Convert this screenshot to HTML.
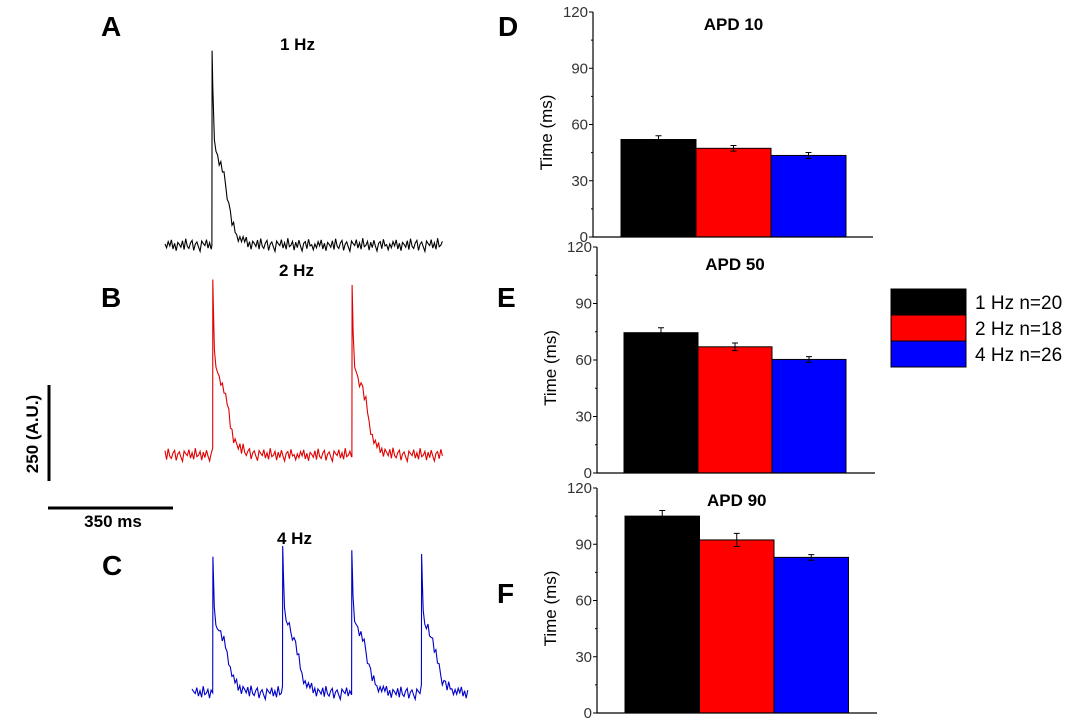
<!DOCTYPE html>
<html><head><meta charset="utf-8"><style>
html,body{margin:0;padding:0;background:#fff;}
svg{display:block;font-family:"Liberation Sans",Arial,sans-serif;}
.lbl{font-weight:bold;font-size:28px;}
.ttl{font-weight:bold;font-size:17px;font-family:"Liberation Sans",sans-serif;}
.tick{font-size:15px;fill:#333;}
</style></head><body>
<svg id="fig" width="1080" height="720" viewBox="0 0 1080 720">
<g>
<text class="lbl" x="101" y="36">A</text>
<text class="lbl" x="101" y="307">B</text>
<text class="lbl" x="102" y="575">C</text>
<text class="lbl" x="498" y="36">D</text>
<text class="lbl" x="497" y="307">E</text>
<text class="lbl" x="497" y="603">F</text>
</g>
<text class="ttl" x="280" y="50">1 Hz</text>
<text class="ttl" x="279" y="276">2 Hz</text>
<text class="ttl" x="277" y="544">4 Hz</text>
<g>
<line x1="49" y1="385" x2="49" y2="481" stroke="#000" stroke-width="3"/>
<text class="ttl" transform="translate(38,434) rotate(-90)" text-anchor="middle">250 (A.U.)</text>
<line x1="48" y1="508" x2="173" y2="508" stroke="#000" stroke-width="3"/>
<text class="ttl" x="113" y="527" text-anchor="middle">350 ms</text>
</g>
<g id="traces"></g>
<g id="bars"></g>
<g>
<rect x="891" y="289" width="75" height="26" fill="#000" stroke="#000"/>
<rect x="891" y="315" width="75" height="26" fill="#f00" stroke="#000"/>
<rect x="891" y="341" width="75" height="26" fill="#00f" stroke="#000"/>
<text x="975" y="309" font-size="19">1 Hz n=20</text>
<text x="975" y="335" font-size="19">2 Hz n=18</text>
<text x="975" y="361" font-size="19">4 Hz n=26</text>
</g>
</svg>
<script>
// ---- bar chart data ----
const groups = ["1 Hz","2 Hz","4 Hz"];
const apd10 = [52, 47.3, 43.5];
const apd10Err = [2, 1.5, 1.6];
const apd50 = [74.5, 67, 60.3];
const apd50Err = [2.6, 2, 1.5];
const apd90 = [105, 92.3, 83];
const apd90Err = [3, 3.5, 1.5];
const yTicks = [0, 30, 60, 90, 120];
const colors = ["#000","#f00","#00f"];
// ---- trace data (ms / A.U.) ----
const peaks1 = [133];
const peaks2 = [135, 528];
const peaks4 = [59, 256, 451, 648];
const amp1 = [508];
const amp2 = [460, 450];
const amp4 = [360, 385, 378, 363];
const shapeT = [0, 4, 8, 16, 28, 40, 50, 60, 70, 84, 100, 140];
const shapeV = [1, 0.62, 0.5, 0.46, 0.4, 0.3, 0.17, 0.09, 0.05, 0.03, 0.01, 0];
const noise = [4,-10,12,-3,18,-14,6,-20,9,2,-8,15,-16,22,-5,-12,7,16,-19,3,11,-7,-22,14,5,-2,19,-11,8,-15,24,-6,-1,13,-18,10,-9,17,-4,-21,6,12,-13,20,-3,1,-17];

const NS="http://www.w3.org/2000/svg";
function mk(tag,attrs,parent){const e=document.createElementNS(NS,tag);for(const k in attrs)e.setAttribute(k,attrs[k]);parent.appendChild(e);return e;}

function shape(dt){
  if(dt<-2||dt>shapeT[shapeT.length-1])return 0;
  if(dt<0)return 0.02;
  for(let i=0;i<shapeT.length-1;i++){if(dt<=shapeT[i+1]){const f=(dt-shapeT[i])/(shapeT[i+1]-shapeT[i]);return shapeV[i]+(shapeV[i+1]-shapeV[i])*f;}}
  return 0;
}
const PX_PER_MS=124/350, PX_PER_AU=95/250;
function trace(x0,yBase,durMs,peaks,amps,color,name,offs){
  const g=document.getElementById('traces');
  // sample times, including exact peak instants
  let ts=[];
  for(let t=0;t<=durMs;t+=4.5)ts.push(t);
  for(const p of peaks){ts.push(p);ts.push(p-0.5);ts.push(p+2);}
  ts.sort((a,b)=>a-b);
  let d="";
  ts.forEach((t,i)=>{
    const n=noise[(Math.round(t/4.5)+offs)%noise.length]*0.75;
    let v=n;
    for(let k=0;k<peaks.length;k++){const s=shape(t-peaks[k]);v+=amps[k]*s;if(s>0.45)v-=n*0.8;}
    const x=x0+t*PX_PER_MS, y=yBase-v*PX_PER_AU;
    d+=(i?"L":"M")+x.toFixed(1)+" "+y.toFixed(1);
  });
  const p=mk('path',{d:d,fill:'none',stroke:color,'stroke-width':1.1},g);
  
  
}
trace(165,245,787,peaks1,amp1,"#000","trace-1hz",0);
trace(165,455,785,peaks2,amp2,"#e00000","trace-2hz",11);
trace(192,693,779,peaks4,amp4,"#0000c8","trace-4hz",23);

function barChart(ax,y0,y120,xEnd,barX,barW,vals,errs,title,titleY,name){
  const g=mk('g',{},document.getElementById('bars'));
  
  
  const ys=v=>y0-(v/120)*(y0-y120);
  for(let i=0;i<vals.length;i++){
    const r=mk('rect',{x:barX+i*barW,y:ys(vals[i]),width:barW,height:y0-ys(vals[i]),fill:colors[i],stroke:'#000','stroke-width':1},g);
    
    
    const cx=barX+i*barW+barW/2;
    const e=mk('path',{d:`M${cx} ${ys(vals[i]+errs[i])}V${ys(vals[i]-errs[i])}M${cx-3} ${ys(vals[i]+errs[i])}H${cx+3}M${cx-3} ${ys(vals[i]-errs[i])}H${cx+3}`,stroke:'#000','stroke-width':1,fill:'none'},g);
    
    
  }
  const ax1=mk('path',{d:`M${ax} ${y120}V${y0}H${xEnd}`,stroke:'#000','stroke-width':1.2,fill:'none'},g);
  
  
  for(const t of yTicks){
    mk('line',{x1:ax-4,x2:ax,y1:ys(t),y2:ys(t),stroke:'#000'},g);
    if(t<120)mk('line',{x1:ax-2,x2:ax,y1:ys(t+15),y2:ys(t+15),stroke:'#000'},g);
    const tx=mk('text',{x:ax-5,y:ys(t)+5,'text-anchor':'end',class:'tick'},g);
    tx.textContent=t;
    
    
  }
  const yl=mk('text',{transform:`translate(${ax-41},${(y0+y120)/2+8}) rotate(-90)`,'text-anchor':'middle','font-size':17},g);
  yl.textContent="Time (ms)";
  
  
  const tt=mk('text',{x:(barX+barX+3*barW)/2,y:titleY,'text-anchor':'middle',class:'ttl'},g);
  tt.textContent=title;
  
  
}
barChart(593,237,12,873,621,75,apd10,apd10Err,"APD 10",30,"chart-apd10");
barChart(597,473,247,875,624,74,apd50,apd50Err,"APD 50",270,"chart-apd50");
barChart(597,713,488,877,625,74.5,apd90,apd90Err,"APD 90",506,"chart-apd90");
</script>
</body></html>
